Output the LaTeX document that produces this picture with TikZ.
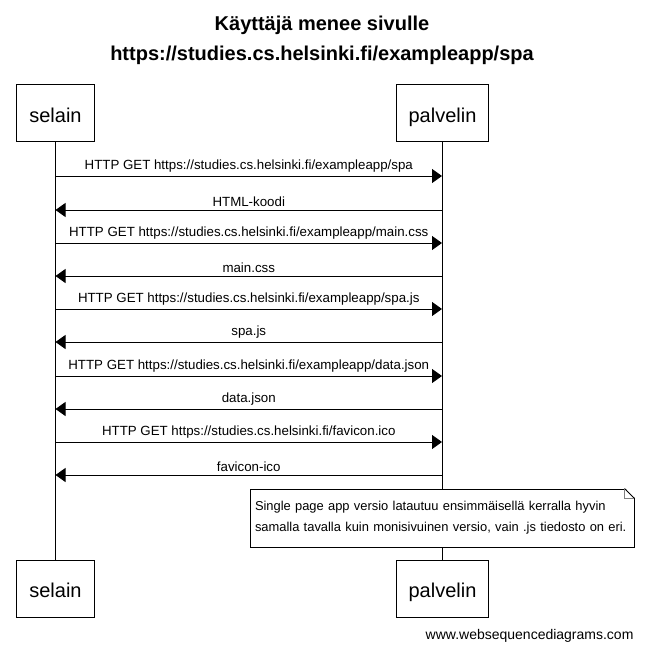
\documentclass[tikz,border=0pt]{standalone}
\usepackage{fontspec}
\setmainfont{Liberation Sans}
\usetikzlibrary{arrows.meta}

\begin{document}
\begin{tikzpicture}[x=1pt, y=-1pt,
    actor/.style={draw, line width=1pt, fill=white, minimum height=57pt, inner xsep=12.5pt,
      text height=17.6pt, text depth=0pt, font=\fontsize{20}{24}\selectfont},
    msg/.style={-{Triangle[length=10pt,width=14pt]}, line width=0.9pt},
    lbl/.style={above=0pt, font=\fontsize{13.3}{15}\selectfont}]
    \useasboundingbox (0,0) rectangle (644,652);
    % title
    \node[font=\bfseries\fontsize{20}{30}\selectfont, align=center] (title) at (322,40)
      {Käyttäjä menee sivulle\\https://studies.cs.helsinki.fi/exampleapp/spa};
    % actors
    \node[actor] (selainA) at (55.5,113.5) {selain};
    \node[actor] (palvelinA) at (442.5,113.5) {palvelin};
    \node[actor] (selainB) at (55.5,588.5) {selain};
    \node[actor] (palvelinB) at (442.5,588.5) {palvelin};
    \draw [line width=0.9pt] (selainA) -- (selainB);
    \draw [line width=0.9pt] (palvelinA) -- (palvelinB);
    % messages
    \coordinate (s1) at (55.5,176);  \coordinate (p1) at (442,176);
    \coordinate (s2) at (55.5,210);  \coordinate (p2) at (442,210);
    \coordinate (s3) at (55.5,243);  \coordinate (p3) at (442,243);
    \coordinate (s4) at (55.5,276);  \coordinate (p4) at (442,276);
    \coordinate (s5) at (55.5,309);  \coordinate (p5) at (442,309);
    \coordinate (s6) at (55.5,342);  \coordinate (p6) at (442,342);
    \coordinate (s7) at (55.5,376);  \coordinate (p7) at (442,376);
    \coordinate (s8) at (55.5,409);  \coordinate (p8) at (442,409);
    \coordinate (s9) at (55.5,442);  \coordinate (p9) at (442,442);
    \coordinate (s10) at (55.5,475); \coordinate (p10) at (442,475);
    \draw [msg] (s1) -- node[lbl] {HTTP GET https://studies.cs.helsinki.fi/exampleapp/spa} (p1);
    \draw [msg] (p2) -- node[lbl] {HTML-koodi} (s2);
    \draw [msg] (s3) -- node[lbl] {HTTP GET https://studies.cs.helsinki.fi/exampleapp/main.css} (p3);
    \draw [msg] (p4) -- node[lbl] {main.css} (s4);
    \draw [msg] (s5) -- node[lbl] {HTTP GET https://studies.cs.helsinki.fi/exampleapp/spa.js} (p5);
    \draw [msg] (p6) -- node[lbl] {spa.js} (s6);
    \draw [msg] (s7) -- node[lbl] {HTTP GET https://studies.cs.helsinki.fi/exampleapp/data.json} (p7);
    \draw [msg] (p8) -- node[lbl] {data.json} (s8);
    \draw [msg] (s9) -- node[lbl] {HTTP GET https://studies.cs.helsinki.fi/favicon.ico} (p9);
    \draw [msg] (p10) -- node[lbl] {favicon-ico} (s10);
    % note
    \node[draw, line width=0.9pt, fill=white, minimum width=384pt, minimum height=58pt,
      text width=374pt, align=left, font=\fontsize{12.9}{21}\selectfont] (note) at (442,518)
      {Single page app versio latautuu ensimmäisellä kerralla hyvin\\
       samalla tavalla kuin monisivuinen versio, vain .js tiedosto on eri.};
    \fill [white] (note.north east) ++(-10,-1) -- ++(11,0) -- ++(0,11) -- cycle;
    \draw [line width=0.9pt] (note.north east) ++(-10,0) -- ++(10,10);
    \draw [gray, line width=0.8pt] (note.north east) ++(-10,0) -- ++(0,10) -- ++(10,0);
    % footer
    \node[anchor=east, font=\fontsize{14}{16}\selectfont] (footer) at (637,636) {www.websequencediagrams.com};
\end{tikzpicture}
\end{document}
